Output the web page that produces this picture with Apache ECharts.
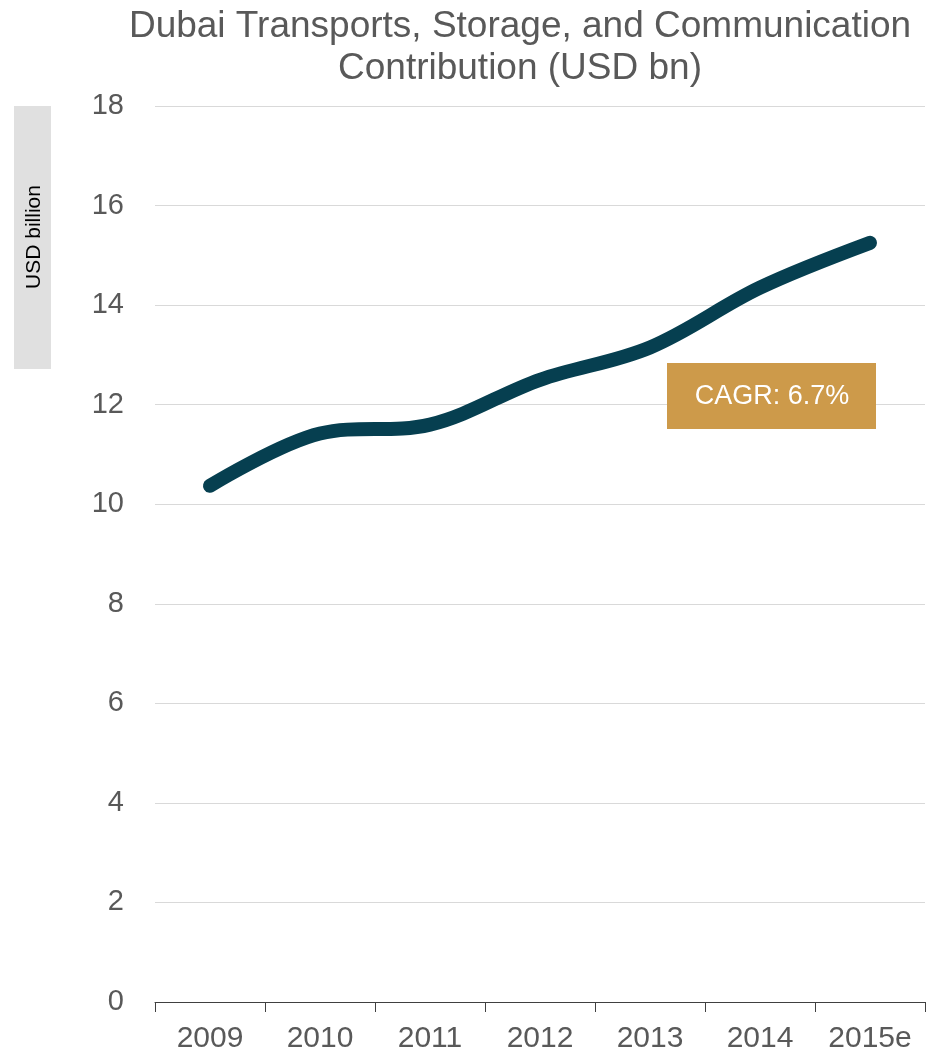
<!DOCTYPE html>
<html>
<head>
<meta charset="utf-8">
<script src="https://cdn.jsdelivr.net/npm/echarts@6/dist/echarts.min.js"></script>
<style>
  html, body { margin: 0; padding: 0; background: #fff; }
  #Echarts1 { width: 936px; height: 1054px; }
</style>
</head>
<body>
<div id="Echarts1"></div>
<script>
// 数据
var years = ['2009', '2010', '2011', '2012', '2013', '2014', '2015e'];
var contribution = [10.37, 11.42, 11.6, 12.5, 13.15, 14.35, 15.25];
var yTicks = { min: 0, max: 18, interval: 2 };
var cagrText = 'CAGR: 6.7%';

var FONT = '"Liberation Sans", Arial, sans-serif';

function initEcharts1() {
    var myChart = echarts.init(document.getElementById('Echarts1'));

    var option = {
        backgroundColor: '#ffffff',
        animation: false,
        title: {
            text: 'Dubai Transports, Storage, and Communication\nContribution (USD bn)',
            left: 515,
            textAlign: 'center',
            top: 1,
            textStyle: {
                fontFamily: FONT,
                fontWeight: 'normal',
                fontSize: 37,
                lineHeight: 42,
                color: '#595959'
            }
        },
        grid: {
            left: 155,
            right: 11,
            top: 106,
            bottom: 51
        },
        xAxis: {
            type: 'category',
            data: years,
            boundaryGap: true,
            axisLine: { lineStyle: { color: '#404040', width: 1 } },
            axisTick: { show: true, length: 10, lineStyle: { color: '#404040' } },
            axisLabel: {
                fontFamily: FONT,
                fontSize: 30,
                color: '#595959',
                margin: 22
            }
        },
        yAxis: {
            type: 'value',
            min: yTicks.min,
            max: yTicks.max,
            interval: yTicks.interval,
            axisLine: { show: false },
            axisTick: { show: false },
            splitLine: { lineStyle: { color: '#d9d9d9', width: 1 } },
            axisLabel: {
                fontFamily: FONT,
                fontSize: 29,
                color: '#595959',
                margin: 31
            }
        },
        series: [
            {
                name: 'Contribution',
                type: 'line',
                data: contribution,
                smooth: 0.35,
                symbol: 'none',
                lineStyle: { color: '#063f50', width: 14, cap: 'round', join: 'round' }
            }
        ],
        graphic: [
            // 纵轴标题
            {
                type: 'rect',
                z: 100,
                left: 14,
                top: 106,
                shape: { width: 37, height: 263 },
                style: { fill: '#e0e0e0' }
            },
            {
                type: 'text',
                z: 101,
                x: 34,
                y: 237,
                rotation: Math.PI / 2,
                style: {
                    text: 'USD billion',
                    fontFamily: FONT,
                    fontSize: 21,
                    fill: '#000000',
                    align: 'center',
                    verticalAlign: 'middle'
                }
            },
            // CAGR 标注
            {
                type: 'rect',
                z: 100,
                left: 667,
                top: 363,
                shape: { width: 209, height: 66 },
                style: { fill: '#cd9a4a' }
            },
            {
                type: 'text',
                z: 101,
                x: 772,
                y: 397,
                style: {
                    text: cagrText,
                    fontFamily: FONT,
                    fontSize: 27,
                    fill: '#ffffff',
                    align: 'center',
                    verticalAlign: 'middle'
                }
            }
        ]
    };

    myChart.setOption(option);
}

initEcharts1();
</script>
</body>
</html>
